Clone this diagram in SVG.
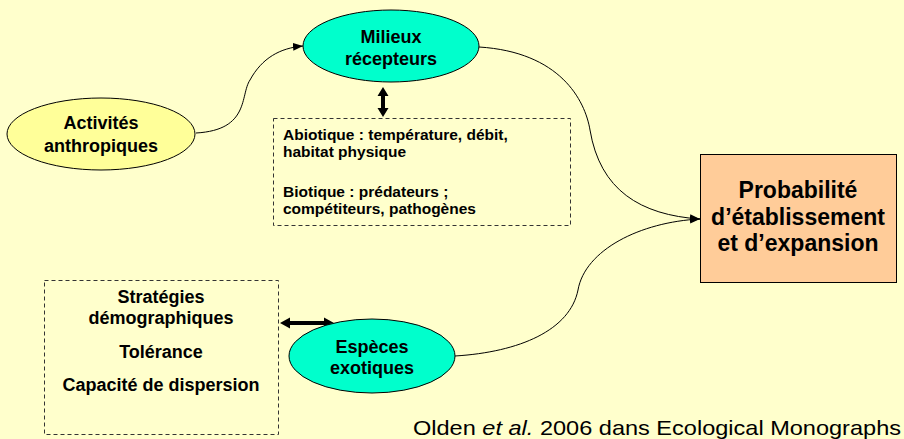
<svg xmlns="http://www.w3.org/2000/svg" width="904" height="439" viewBox="0 0 904 439">
<defs>
<style>
.bg{fill:#FFFFCC}
.node{stroke:#000;stroke-width:1}
.t{font-family:"Liberation Sans",Arial,sans-serif;font-weight:bold;fill:#000}
.dash{fill:none;stroke:#333;stroke-width:1;stroke-dasharray:4,3}
.conn{fill:none;stroke:#000;stroke-width:1}
.dbl{fill:#000;stroke:none}
</style>
<marker id="ah" viewBox="0 0 10 10" refX="10" refY="5" markerWidth="10" markerHeight="10" markerUnits="userSpaceOnUse" orient="auto">
<path d="M0,1 L10,5 L0,9 z" fill="#000"/>
</marker>
</defs>
<rect class="bg" x="0" y="0" width="904" height="439"/>

<g id="connectors">
<path class="conn" d="M196,133 C250,130 240,95 250,80 C262,58 280,48 303,46" marker-end="url(#ah)"/>
<path class="conn" d="M479,47 C560,52 585,100 590,130 C600,190 640,215 700,219" marker-end="url(#ah)"/>
<path class="conn" d="M455,356 C520,352 570,330 578,290 C585,250 640,222 700,219" marker-end="url(#ah)"/>
<path class="dbl" d="M383,87 L388.5,96 L385,96 L385,108 L388.5,108 L383,117 L377.5,108 L381,108 L381,96 L377.5,96 Z"/>
<path class="dbl" d="M280,323 L290,317.5 L290,321 L324,321 L324,317.5 L334,323 L324,328.5 L324,325 L290,325 L290,328.5 Z"/>
</g>

<g id="activites">
<ellipse class="node" cx="101" cy="134" rx="94" ry="36" fill="#FFFF99"/>
<text class="t" x="101" y="129" font-size="18" text-anchor="middle">Activités</text>
<text class="t" x="101" y="152" font-size="18" text-anchor="middle">anthropiques</text>
</g>

<g id="milieux">
<ellipse class="node" cx="391" cy="46" rx="88" ry="36" fill="#00FFCC"/>
<text class="t" x="391" y="43" font-size="18" text-anchor="middle">Milieux</text>
<text class="t" x="391" y="65" font-size="18" text-anchor="middle">récepteurs</text>
</g>

<g id="facteurs-milieu">
<rect class="dash" x="273.5" y="118.5" width="297" height="107"/>
<text class="t" x="283" y="140" font-size="15.5">Abiotique : température, débit,</text>
<text class="t" x="283" y="157" font-size="15.5">habitat physique</text>
<text class="t" x="283" y="197" font-size="15.5">Biotique : prédateurs ;</text>
<text class="t" x="283" y="214" font-size="15.5">compétiteurs, pathogènes</text>
</g>

<g id="probabilite">
<rect class="node" x="700.5" y="154.5" width="196" height="128" fill="#FFCC99"/>
<text class="t" x="798" y="198" font-size="23" text-anchor="middle">Probabilité</text>
<text class="t" x="798" y="225" font-size="23" text-anchor="middle">d’établissement</text>
<text class="t" x="798" y="251" font-size="23" text-anchor="middle">et d’expansion</text>
</g>

<g id="especes">
<ellipse class="node" cx="372" cy="356" rx="83" ry="37" fill="#00FFCC"/>
<text class="t" x="372" y="353" font-size="18" text-anchor="middle">Espèces</text>
<text class="t" x="372" y="374" font-size="18" text-anchor="middle">exotiques</text>
</g>

<g id="traits">
<rect class="dash" x="44.5" y="280.5" width="234" height="154"/>
<text class="t" x="161" y="303" font-size="18" text-anchor="middle">Stratégies</text>
<text class="t" x="161" y="324" font-size="18" text-anchor="middle">démographiques</text>
<text class="t" x="161" y="358" font-size="18" text-anchor="middle">Tolérance</text>
<text class="t" x="161" y="391" font-size="18" text-anchor="middle">Capacité de dispersion</text>
</g>

<text x="413" y="435" font-family="'Liberation Sans',Arial,sans-serif" font-size="21" fill="#000" textLength="488" lengthAdjust="spacingAndGlyphs">Olden <tspan font-style="italic">et al.</tspan> 2006 dans Ecological Monographs</text>
</svg>
